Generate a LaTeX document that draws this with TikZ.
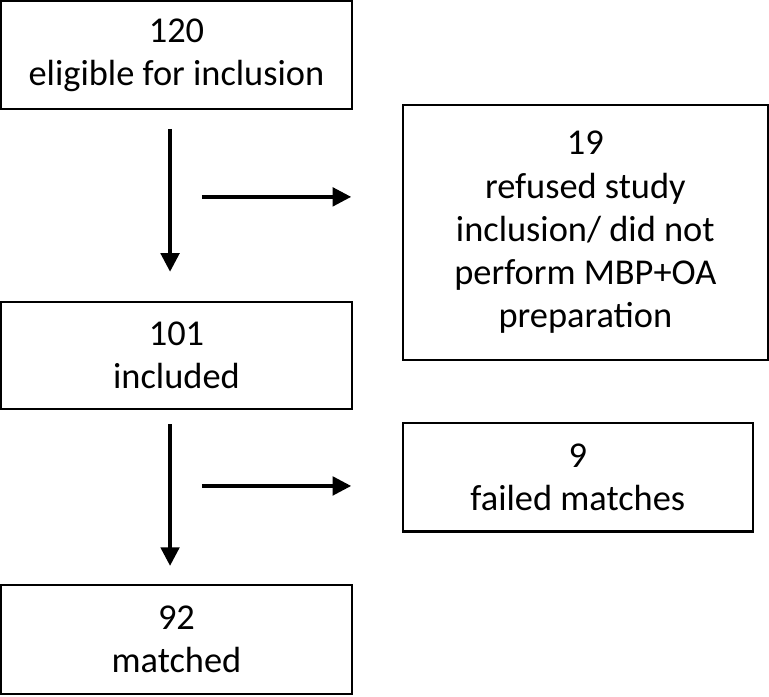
\documentclass[tikz,border=0pt]{standalone}
\usepackage{fontspec}
\setmainfont{Carlito}
\usetikzlibrary{arrows.meta, positioning}

\begin{document}
\begin{tikzpicture}[
    >={Triangle[length=14pt,width=14pt]},
    box/.style={rectangle, draw, line width=1.8pt, align=center, inner sep=0pt,
      font=\fontsize{27.4}{32.5}\selectfont},
    flow/.style={->, line width=2.6pt}
  ]
    \useasboundingbox (0,0) rectangle (20.35,-18.42);

    % boxes
    \node[box, minimum width=9.29cm, minimum height=2.86cm] (elig) at (4.67,-1.46) {120\\eligible for inclusion};
    \node[box, minimum width=9.29cm, minimum height=2.83cm] (incl) at (4.67,-9.41) {101\\included};
    \node[box, minimum width=9.29cm, minimum height=2.88cm] (match) at (4.67,-16.92) {92\\matched};
    \node[box, minimum width=9.66cm, minimum height=6.75cm] (refused) at (15.49,-6.15)
      {19\\refused study\\inclusion/ did not\\perform MBP+OA\\preparation};
    \node[box, minimum width=9.26cm, minimum height=2.88cm] (failed) at (15.29,-12.63) {9\\failed matches};

    % side arrows start here
    \coordinate (split1) at (5.345,-5.21);
    \coordinate (split2) at (5.345,-12.86);

    % arrows
    \draw[flow, shorten <=14pt, shorten >=22pt] ([xshift=-0.17cm]elig.south) -- ([xshift=-0.17cm]incl.north);
    \draw[flow, shorten <=10.5pt, shorten >=13.5pt] ([xshift=-0.17cm]incl.south) -- ([xshift=-0.17cm]match.north);
    \draw[flow, shorten >=38pt] (split1) -- (split1 -| refused.west);
    \draw[flow, shorten >=38pt] (split2) -- (split2 -| failed.west);
  \end{tikzpicture}
\end{document}
